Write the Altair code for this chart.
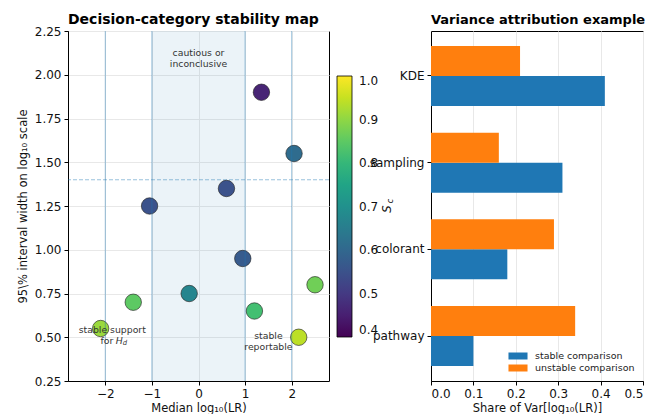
import altair as alt
import pandas as pd

FONT = "DejaVu Sans"

# ---- Left panel: decision-category stability map ----
median_log_lr = [-2.1, -1.4, -1.05, -0.2, 0.6, 0.95, 1.35, 1.2, 2.05, 2.15, 2.5]
interval_width = [0.55, 0.70, 1.25, 0.75, 1.35, 0.95, 1.90, 0.65, 1.55, 0.50, 0.80]
s_c = [0.91, 0.85, 0.55, 0.67, 0.55, 0.57, 0.46, 0.82, 0.61, 0.94, 0.87]

boundaries = [-2, -1, 1, 2]
zone_lo = [-1]
zone_hi = [1]
width_threshold = [1.4]

# multi-line annotations
ann_x = [0.0, 1.5, -1.85]
ann_y = [2.123, 0.51, 0.541]
ann_text = ["cautious or\ninconclusive", "stable\nreportable", "stable support"]
# second line of the H_d annotation (pieces: "for", italic "H", subscript "d")
hd_x = [-1.85]
hd_y = [0.479]

left_title = ["Decision-category stability map"]
right_title = ["Variance attribution example"]

# ---- Right panel: variance attribution ----
components = ["KDE", "sampling", "colorant", "pathway"]
stable_share = [0.41, 0.31, 0.18, 0.10]
unstable_share = [0.21, 0.16, 0.29, 0.34]

pts = pd.DataFrame({"x": median_log_lr, "y": interval_width, "sc": s_c})
zone = pd.DataFrame({"lo": zone_lo, "hi": zone_hi})
bnd = pd.DataFrame({"b": boundaries})
thr = pd.DataFrame({"t": width_threshold})
ann = pd.DataFrame({"x": ann_x, "y": ann_y, "label": ann_text})
hd = pd.DataFrame({"x": hd_x, "y": hd_y})
lt = pd.DataFrame({"t": left_title})
rt = pd.DataFrame({"t": right_title})

bars = pd.DataFrame({
    "component": components * 2,
    "comparison": ["stable comparison"] * 4 + ["unstable comparison"] * 4,
    "share": stable_share + unstable_share,
})

xscale = alt.Scale(domain=[-2.8, 2.8], nice=False, zero=False)
yscale = alt.Scale(domain=[0.25, 2.25], nice=False, zero=False)
xaxis = alt.Axis(title="Median log₁₀(LR)", values=[-2, -1, 0, 1, 2], format="d")
yaxis = alt.Axis(title="95\\% interval width on log₁₀ scale",
                 values=[0.25, 0.5, 0.75, 1.0, 1.25, 1.5, 1.75, 2.0, 2.25], format=".2f")

X = alt.X("x:Q", scale=xscale, axis=xaxis)
Y = alt.Y("y:Q", scale=yscale, axis=yaxis)

TITLE_STYLE = dict(font=FONT, fontWeight="bold", color="#000",
                   align="left", baseline="alphabetic")

zone_layer = alt.Chart(zone).mark_rect(color="#1f77b4", opacity=0.09).encode(
    x=alt.X("lo:Q", scale=xscale, axis=xaxis),
    x2="hi:Q",
)
thr_layer = alt.Chart(thr).mark_rule(color="#1f77b4", opacity=0.45, strokeDash=[4, 2], strokeWidth=1).encode(
    y=alt.Y("t:Q", scale=yscale, axis=yaxis)
)
points = alt.Chart(pts).mark_circle(size=270, opacity=1, stroke="#222", strokeWidth=0.8, strokeOpacity=0.8).encode(
    x=X, y=Y,
    color=alt.Color("sc:Q",
                    scale=alt.Scale(scheme="viridis", domain=[0.4, 1.0]),
                    legend=alt.Legend(
                        title=None, orient="none", legendX=269, legendY=45,
                        direction="vertical", gradientLength=261, gradientThickness=15,
                        values=[0.4, 0.5, 0.6, 0.7, 0.8, 0.9, 1.0], format=".1f",
                        labelOverlap=False, labelFontSize=12, labelFont=FONT, labelColor="#111",
                        labelOffset=7,
                        gradientStrokeColor="#000", gradientStrokeWidth=0.8,
                    )),
)
bnd_layer = alt.Chart(bnd).mark_rule(color="#1f77b4", opacity=0.45, strokeWidth=1).encode(
    x=alt.X("b:Q", scale=xscale, axis=xaxis)
)
ann_layer = alt.Chart(ann).mark_text(fontSize=9.3, font=FONT, color="#333", lineBreak="\n", align="center",
                                     baseline="middle", lineHeight=11).encode(
    x=X, y=Y, text="label:N",
)
hd_for = alt.Chart(hd).mark_text(text="for", fontSize=9.3, font=FONT, color="#333", align="right",
                                 baseline="middle", dx=1).encode(x=X, y=Y)
hd_H = alt.Chart(hd).mark_text(text="H", fontSize=9.3, font=FONT, fontStyle="italic", color="#333",
                               align="left", baseline="middle", dx=3.5).encode(x=X, y=Y)
hd_d = alt.Chart(hd).mark_text(text="d", fontSize=6.8, font=FONT, fontStyle="italic", color="#333",
                               align="left", baseline="middle", dx=10.5, dy=2.5).encode(x=X, y=Y)

# colorbar label S_c (rotated, with subscript)
sc_S = alt.Chart(hd).mark_text(text="S", fontSize=11.5, font=FONT, fontStyle="italic", color="#111",
                               angle=270, align="center", baseline="middle").encode(
    x=alt.value(320), y=alt.value(178))
sc_c = alt.Chart(hd).mark_text(text="c", fontSize=8, font=FONT, fontStyle="italic", color="#111",
                               angle=270, align="center", baseline="middle").encode(
    x=alt.value(323), y=alt.value(170))

left_title_layer = alt.Chart(lt).mark_text(fontSize=14, **TITLE_STYLE).encode(
    x=alt.value(0), y=alt.value(-7), text="t:N")

left = alt.layer(zone_layer, thr_layer, points, bnd_layer, ann_layer, hd_for, hd_H, hd_d,
                 sc_S, sc_c, left_title_layer).properties(width=261, height=350)

bar_layer = alt.Chart(bars).mark_bar().encode(
    y=alt.Y("component:N", sort=components,
            scale=alt.Scale(paddingInner=0.308, paddingOuter=0.173),
            axis=alt.Axis(title=None, grid=False)),
    yOffset=alt.YOffset("comparison:N", sort=["unstable comparison", "stable comparison"],
                        scale=alt.Scale(paddingInner=0, paddingOuter=0)),
    x=alt.X("share:Q", scale=alt.Scale(domain=[0, 0.5], nice=False),
            axis=alt.Axis(title="Share of Var[log₁₀(LR)]", values=[0, 0.1, 0.2, 0.3, 0.4, 0.5], format=".1f")),
    color=alt.Color("comparison:N",
                    scale=alt.Scale(domain=["stable comparison", "unstable comparison"],
                                    range=["#1f77b4", "#ff7f0e"]),
                    legend=alt.Legend(title=None, orient="none", legendX=80, legendY=318,
                                      symbolType="M-1.36,-0.5H1.36V0.5H-1.36Z", symbolSize=196,
                                      symbolStrokeWidth=0, labelFontSize=9.5, labelFont=FONT,
                                      labelColor="#222", rowPadding=0, labelOffset=10)),
)
right_title_layer = alt.Chart(rt).mark_text(fontSize=13, **TITLE_STYLE).encode(
    x=alt.value(0), y=alt.value(-7), text="t:N")

right = alt.layer(bar_layer, right_title_layer).properties(width=212, height=350)

chart = alt.hconcat(left, right, spacing=102, bounds="flush").resolve_scale(
    color="independent"
).resolve_legend(color="independent").properties(
    padding={"left": 8, "top": 4, "right": 0, "bottom": 0}
).configure_view(
    stroke="#000", strokeWidth=1
).configure_axis(
    labelFont=FONT, titleFont=FONT, labelFontSize=12, titleFontSize=11.5,
    labelColor="#111", titleColor="#111", titleFontWeight="normal",
    domainColor="#000", tickColor="#000", tickSize=4, labelPadding=3,
    gridColor="#e8e8e8", gridWidth=1,
).configure_axisX(titlePadding=3).configure_axisY(titlePadding=6)

chart.save("out.html", embed_options={"renderer": "svg", "actions": False})
